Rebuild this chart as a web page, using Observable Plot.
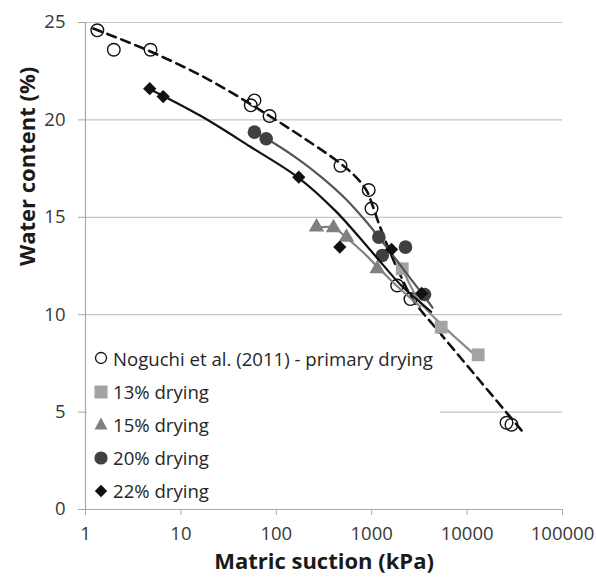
<!DOCTYPE html>
<html>
<head>
<meta charset="utf-8">
<script src="https://cdn.jsdelivr.net/npm/d3@7"></script>
<script src="https://cdn.jsdelivr.net/npm/@observablehq/plot@0.6"></script>
<style>
  html, body { margin: 0; padding: 0; background: #fff; }
  #wrap { position: relative; width: 596px; height: 580px; font-family: "Open Sans", sans-serif; }
  #legend { position: absolute; left: 87px; top: 334px; width: 353px; height: 172px; background: #fff; }
  .item { position: absolute; left: 0; height: 24px; display: flex; align-items: center; font-size: 18.6px; color: #262626; white-space: nowrap; }
  .item svg { width: 28px; height: 24px; flex: none; }
</style>
</head>
<body>
<div id="wrap"></div>
<script>
// Noguchi et al. (2011) - primary drying: measured points
const nogSuction = [1.33, 1.98, 4.8, 59, 54, 85, 471, 930, 995, 1850, 2550, 25900, 29200];
const nogWater   = [24.6, 23.6, 23.6, 21.0, 20.75, 20.2, 17.65, 16.4, 15.45, 11.5, 10.8, 4.45, 4.35];
// Noguchi fitted curve (dashed)
const nogFitSuction = [1.21, 4.8, 20.4, 87, 228, 471, 677, 882, 1020, 1178, 1500, 2004, 2743, 5263, 13820, 37180];
const nogFitWater   = [24.69, 23.51, 22.02, 20.17, 18.84, 17.76, 17.09, 16.38, 15.61, 14.73, 13.40, 12.01, 10.73, 9.03, 6.57, 4.06];

// 13% drying
const s13Suction = [2090, 5350, 13070];
const s13Water   = [12.36, 9.36, 7.94];
const s13FitSuction = [2103, 2551, 3247, 5263, 11675];
const s13FitWater   = [12.36, 11.49, 10.62, 9.54, 8.0];

// 15% drying
const s15Suction = [264, 398, 544, 1143];
const s15Water   = [14.5, 14.46, 13.98, 12.36];
const s15FitSuction = [264, 398, 544, 801, 1150, 1776, 3247];
const s15FitWater   = [14.46, 14.46, 13.95, 13.23, 12.46, 11.54, 10.41];

// 20% drying
const s20Suction = [59, 78.4, 1188, 2261, 1289, 3575];
const s20Water   = [19.37, 19.03, 13.98, 13.47, 13.04, 11.04];
const s20FitSuction = [59.1, 78.9, 179, 312.6, 531, 861, 1178, 1776, 2551, 3577, 4338];
const s20FitWater   = [19.33, 19.03, 17.90, 16.97, 15.95, 14.82, 14.0, 12.87, 11.85, 10.92, 10.36];

// 22% drying
const s22Suction = [4.71, 6.52, 172, 463, 1614, 3327];
const s22Water   = [21.6, 21.2, 17.06, 13.47, 13.35, 11.09];
const s22FitSuction = [4.69, 16.05, 53.6, 171, 417, 1044, 2004, 3247, 4200];
const s22FitWater   = [21.59, 20.21, 18.62, 17.03, 15.33, 13.13, 11.54, 10.62, 10.15];

// axes
const xTicks = [1, 10, 100, 1000, 10000, 100000];
const yTicks = [0, 5, 10, 15, 20, 25];
const xTitle = "Matric suction (kPa)";
const yTitle = "Water content (%)";
const legendLabels = ["Noguchi et al. (2011) - primary drying", "13% drying", "15% drying", "20% drying", "22% drying"];

const zip = (xs, ys) => xs.map((x, i) => ({x, y: ys[i]}));

const nog = zip(nogSuction, nogWater), nogFit = zip(nogFitSuction, nogFitWater);
const d13 = zip(s13Suction, s13Water), f13 = zip(s13FitSuction, s13FitWater);
const d15 = zip(s15Suction, s15Water), f15 = zip(s15FitSuction, s15FitWater);
const d20 = zip(s20Suction, s20Water), f20 = zip(s20FitSuction, s20FitWater);
const d22 = zip(s22Suction, s22Water), f22 = zip(s22FitSuction, s22FitWater);

const c13 = "#a3a3a3", c15 = "#808080", c20 = "#404040", c22 = "#111111";

const chart = Plot.plot({
  width: 596,
  height: 580,
  marginLeft: 85,
  marginRight: 34,
  marginTop: 22,
  marginBottom: 71,
  style: {fontFamily: "Open Sans, sans-serif", fontSize: "18.5px", color: "#383838", background: "#fff"},
  x: {type: "log", domain: [1, 100000]},
  y: {domain: [0, 25]},
  marks: [
    Plot.ruleY(yTicks.filter(d => d > 0), {stroke: "#c4c4c4", strokeWidth: 1.2}),
    Plot.ruleX([1], {stroke: "#a8a8a8", strokeWidth: 1.2}),
    Plot.ruleY([0], {stroke: "#a8a8a8", strokeWidth: 1.2}),
    Plot.axisX({ticks: xTicks, tickFormat: d => String(d), tickSize: 6, tickPadding: 11, stroke: "#a8a8a8", label: null}),
    Plot.axisY({ticks: yTicks, tickFormat: d => String(d), tickSize: 7, tickPadding: 13, stroke: "#a8a8a8", label: null}),
    Plot.text([xTitle], {text: d => d, frameAnchor: "bottom", dy: 59, fontWeight: "bold", fontSize: 22, fill: "#1a1a1a"}),
    Plot.text([yTitle], {text: d => d, frameAnchor: "left", dx: -58, rotate: -90, fontWeight: "bold", fontSize: 22, fill: "#1a1a1a"}),
    // fitted lines and points
    Plot.line(nogFit, {x: "x", y: "y", stroke: "#111", strokeWidth: 2.6, strokeDasharray: "9,6", curve: "catmull-rom"}),
    Plot.dot(nog, {x: "x", y: "y", r: 6.3, stroke: "#111", strokeWidth: 1.4, fill: "none"}),
    Plot.line(f13, {x: "x", y: "y", stroke: "#8c8c8c", strokeWidth: 2.2, curve: "catmull-rom"}),
    Plot.dot(d13, {x: "x", y: "y", symbol: "square", r: 7.2, fill: c13}),
    Plot.line(f15, {x: "x", y: "y", stroke: c15, strokeWidth: 2.2, curve: "catmull-rom"}),
    Plot.dot(d15, {x: "x", y: "y", symbol: "triangle", r: 5.8, fill: c15}),
    Plot.line(f20, {x: "x", y: "y", stroke: "#555", strokeWidth: 2.2, curve: "catmull-rom"}),
    Plot.dot(d20, {x: "x", y: "y", r: 6.8, fill: c20}),
    Plot.line(f22, {x: "x", y: "y", stroke: c22, strokeWidth: 2.2, curve: "catmull-rom"}),
    Plot.dot(d22, {x: "x", y: "y", symbol: "square", rotate: 45, r: 5.3, fill: c22})
  ]
});

const wrap = document.getElementById("wrap");
wrap.appendChild(chart);

// legend (HTML overlay inside plot area)
const legend = document.createElement("div");
legend.id = "legend";
const markers = [
  '<circle cx="14" cy="12" r="5.5" fill="none" stroke="#111" stroke-width="1.3"/>',
  '<rect x="7.5" y="5.5" width="13" height="13" fill="' + c13 + '"/>',
  '<path d="M14,5.5 L20.5,17.5 L7.5,17.5 Z" fill="' + c15 + '"/>',
  '<circle cx="14" cy="12" r="6.6" fill="' + c20 + '"/>',
  '<path d="M14,5.8 L20.2,12 L14,18.2 L7.8,12 Z" fill="' + c22 + '"/>'
];
const rowCenters = [24, 57.5, 90, 123.5, 156.5];
legendLabels.forEach((lab, i) => {
  const it = document.createElement("div");
  it.className = "item";
  it.style.top = (rowCenters[i] - 12) + "px";
  it.innerHTML = '<svg viewBox="0 0 28 24">' + markers[i] + '</svg><span style="margin-left:-2px">' + lab + '</span>';
  legend.appendChild(it);
});
wrap.appendChild(legend);
</script>
</body>
</html>
